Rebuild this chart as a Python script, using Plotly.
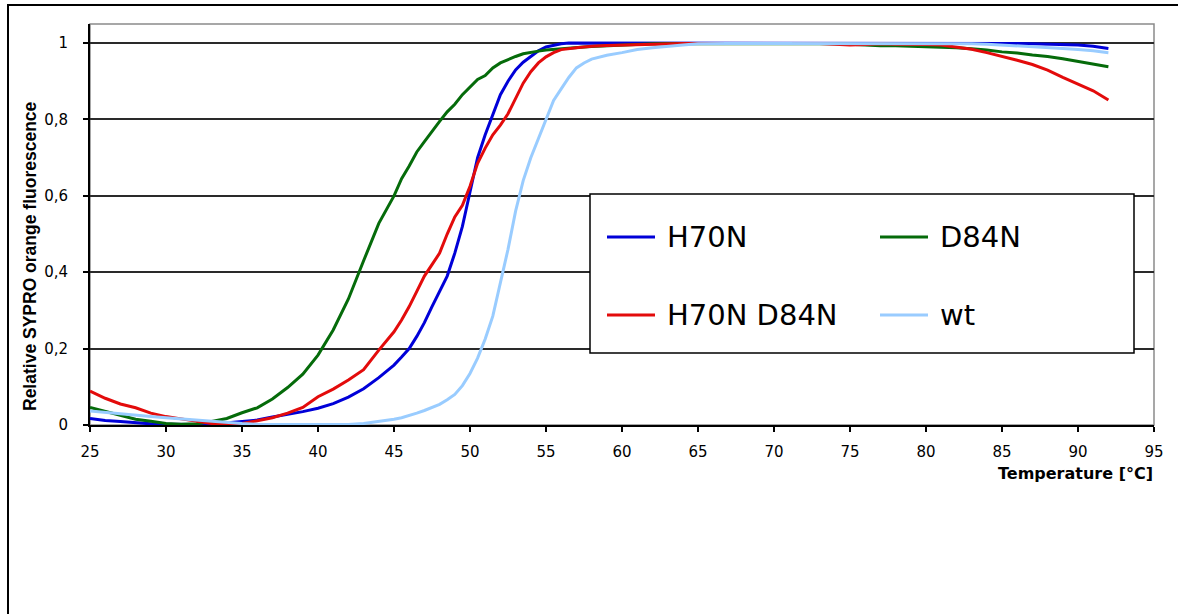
import plotly.graph_objects as go

# Temperature steps (°C); finer steps through the melting transition
temperature = [25, 26, 27, 28, 29, 30, 31, 32, 33, 34, 35, 36, 37, 38, 39, 40,
               41, 42, 43, 44, 45, 45.5, 46, 46.5, 47, 47.5, 48, 48.5, 49, 49.5,
               50, 50.5, 51, 51.5, 52, 52.5, 53, 53.5, 54, 54.5, 55, 55.5, 56,
               56.5, 57, 57.5, 58, 59, 60, 61, 62, 63, 64, 65, 66, 67, 68, 69,
               70, 71, 72, 73, 74, 75, 76, 77, 78, 79, 80, 81, 82, 83, 84, 85,
               86, 87, 88, 89, 90, 91, 92]

h70n = [0.017, 0.012, 0.009, 0.006, 0.003, 0.002, 0.001, 0.001, 0.002, 0.005,
        0.009, 0.013, 0.021, 0.028, 0.035, 0.044, 0.056, 0.073, 0.095, 0.124,
        0.157, 0.178, 0.200, 0.232, 0.268, 0.310, 0.350, 0.390, 0.450, 0.520,
        0.610, 0.700, 0.760, 0.810, 0.865, 0.900, 0.930, 0.950, 0.965, 0.980,
        0.990, 0.995, 0.998, 1.000, 1.000, 1.000, 1.000, 1.000, 1.000, 1.000,
        1.000, 1.000, 1.000, 1.000, 1.000, 1.000, 1.000, 1.000, 1.000, 1.000,
        1.000, 1.000, 1.000, 1.000, 1.000, 1.000, 1.000, 1.000, 1.000, 1.000,
        1.000, 1.000, 1.000, 0.999, 0.999, 0.998, 0.997, 0.996, 0.995, 0.992,
        0.986]

d84n = [0.046, 0.036, 0.026, 0.015, 0.010, 0.004, 0.002, 0.003, 0.009, 0.017,
        0.032, 0.045, 0.068, 0.098, 0.133, 0.183, 0.249, 0.330, 0.430, 0.528,
        0.600, 0.645, 0.678, 0.715, 0.742, 0.770, 0.795, 0.820, 0.840, 0.865,
        0.885, 0.905, 0.915, 0.935, 0.948, 0.957, 0.965, 0.972, 0.976, 0.979,
        0.982, 0.984, 0.986, 0.988, 0.989, 0.990, 0.991, 0.993, 0.995, 0.997,
        0.998, 0.999, 0.999, 0.999, 0.999, 0.999, 0.999, 0.999, 0.999, 0.999,
        0.999, 0.999, 0.998, 0.997, 0.995, 0.993, 0.993, 0.992, 0.991, 0.990,
        0.988, 0.985, 0.982, 0.977, 0.974, 0.969, 0.965, 0.959, 0.952, 0.946,
        0.938]

h70n_d84n = [0.089, 0.070, 0.055, 0.045, 0.031, 0.022, 0.016, 0.010, 0.004,
             0.002, 0.004, 0.011, 0.019, 0.031, 0.046, 0.074, 0.094, 0.118,
             0.145, 0.196, 0.244, 0.275, 0.310, 0.350, 0.390, 0.420, 0.450,
             0.500, 0.545, 0.575, 0.625, 0.685, 0.725, 0.760, 0.785, 0.815,
             0.855, 0.895, 0.925, 0.948, 0.964, 0.975, 0.983, 0.986, 0.988,
             0.990, 0.992, 0.994, 0.995, 0.997, 0.998, 0.999, 0.999, 0.999,
             0.999, 0.999, 0.999, 0.999, 0.999, 0.999, 0.999, 0.999, 0.997,
             0.995, 0.996, 0.998, 0.997, 0.997, 0.996, 0.995, 0.990, 0.984,
             0.975, 0.966, 0.955, 0.944, 0.929, 0.910, 0.893, 0.875, 0.851]

wt = [0.037, 0.033, 0.029, 0.026, 0.022, 0.019, 0.016, 0.013, 0.009, 0.006,
      0.004, 0.002, 0.001, 0.001, 0.001, 0.001, 0.001, 0.001, 0.004, 0.009,
      0.015, 0.019, 0.024, 0.031, 0.038, 0.045, 0.054, 0.066, 0.080, 0.103,
      0.135, 0.175, 0.225, 0.285, 0.370, 0.460, 0.560, 0.640, 0.700, 0.750,
      0.800, 0.850, 0.880, 0.910, 0.935, 0.948, 0.958, 0.968, 0.975, 0.983,
      0.988, 0.992, 0.995, 0.998, 0.999, 0.999, 0.999, 0.999, 0.999, 0.999,
      0.999, 0.999, 0.999, 0.999, 0.999, 0.999, 0.999, 0.999, 0.999, 0.999,
      0.999, 0.998, 0.997, 0.995, 0.993, 0.991, 0.989, 0.986, 0.983, 0.980,
      0.975]

series_names = ["H70N", "D84N", "H70N D84N", "wt"]
series_values = [h70n, d84n, h70n_d84n, wt]
series_colors = ["#0000d8", "#056b0a", "#e30b0b", "#99ccff"]

x_ticks = [25, 30, 35, 40, 45, 50, 55, 60, 65, 70, 75, 80, 85, 90, 95]
y_ticks = [0, 0.2, 0.4, 0.6, 0.8, 1]

# Canvas geometry (pixels)
W, H = 1178, 614
L, R, T, B = 90, 24, 24, 189
PW, PH = W - L - R, H - T - B


def px(xp):
    return (xp - L) / PW


def py(yp):
    return (H - B - yp) / PH


fig = go.Figure()
for name, vals, col in zip(series_names, series_values, series_colors):
    fig.add_trace(go.Scatter(x=temperature, y=vals, name=name, mode="lines",
                             line=dict(color=col, width=3),
                             showlegend=False))

tick_font = dict(family="DejaVu Sans", size=15, color="#000000")

fig.update_layout(
    width=W, height=H, autosize=False,
    margin=dict(l=L, r=R, t=T, b=B, pad=0),
    paper_bgcolor="#ffffff", plot_bgcolor="#ffffff",
    separators=",.",
    xaxis=dict(range=[25, 95], tickvals=x_ticks, showgrid=False,
               zeroline=False, showline=True, linecolor="#000000",
               linewidth=2, ticks="outside", ticklen=5, tickwidth=1.5,
               tickcolor="#000000", tickfont=tick_font, ticklabelstandoff=7),
    yaxis=dict(range=[0, 1.05], tickvals=y_ticks, tickformat="~g",
               showgrid=True, gridcolor="#2a2a2a", gridwidth=1.5,
               zeroline=False, showline=True, linecolor="#000000",
               linewidth=2, ticks="outside", ticklen=5, tickwidth=1.5,
               tickcolor="#000000", tickfont=tick_font, ticklabelstandoff=12),
)

shapes = [
    # plot-area frame
    dict(type="rect", xref="paper", yref="paper", x0=0, x1=1, y0=0, y1=1,
         line=dict(color="#8a8a8a", width=1.5), layer="below"),
    # outer chart frame
    dict(type="rect", xref="paper", yref="paper", x0=px(8), x1=px(1200),
         y0=py(700), y1=py(5), line=dict(color="#000000", width=2)),
    # legend box
    dict(type="rect", xref="paper", yref="paper", x0=px(590), x1=px(1134),
         y0=py(353), y1=py(194), line=dict(color="#000000", width=1.5),
         fillcolor="#ffffff", layer="above"),
]

annotations = [
    dict(text="<b>Relative SYPRO orange fluorescence</b>", xref="paper",
         yref="paper", x=px(30), y=py(256), textangle=-90, showarrow=False,
         xanchor="center", yanchor="middle",
         font=dict(family="Liberation Sans Narrow, Liberation Sans, Arial",
                   size=17.5, color="#000000")),
    dict(text="<b>Temperature [°C]</b>", xref="paper", yref="paper",
         x=px(1155), y=py(473), showarrow=False, xanchor="right",
         yanchor="middle",
         font=dict(family="DejaVu Sans", size=16, color="#000000")),
]

# legend entries: two columns, two rows
legend_cols = [607, 880]
legend_rows = [237, 315]
for i, (name, col) in enumerate(zip(series_names, series_colors)):
    cx = legend_cols[i % 2]
    ry = legend_rows[i // 2]
    shapes.append(dict(type="line", xref="paper", yref="paper",
                       x0=px(cx), x1=px(cx + 48), y0=py(ry), y1=py(ry),
                       line=dict(color=col, width=3), layer="above"))
    annotations.append(dict(text=name, xref="paper", yref="paper",
                            x=px(cx + 58), y=py(ry), showarrow=False,
                            xanchor="left", yanchor="middle",
                            font=dict(family="DejaVu Sans", size=29,
                                      color="#000000")))

fig.update_layout(shapes=shapes, annotations=annotations)

fig.write_html("out.html")
